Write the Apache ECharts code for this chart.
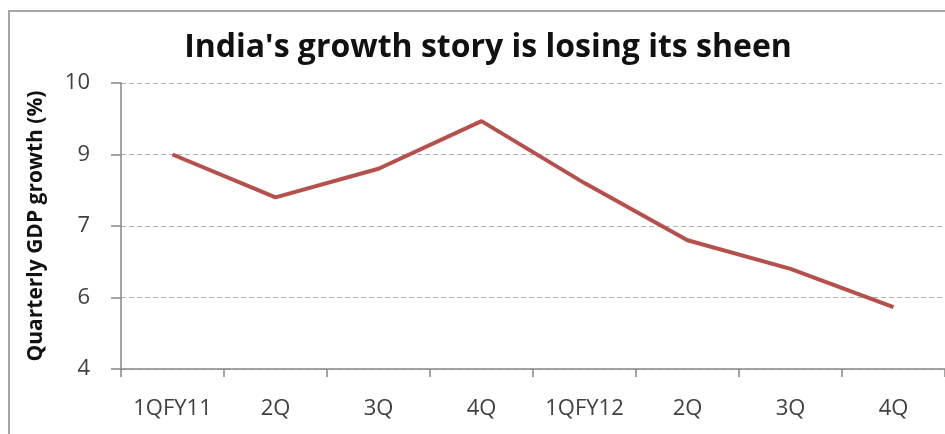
<!DOCTYPE html>
<html>
<head>
<meta charset="utf-8">
<script src="https://cdn.jsdelivr.net/npm/echarts@6/dist/echarts.min.js"></script>
<style>
  html, body { margin: 0; padding: 0; background: #fff; }
  #main { width: 945px; height: 434px; }
</style>
</head>
<body>
<div id="main"></div>
<script>
'use strict'

// quarters on the x axis
var quarters = ['1QFY11', '2Q', '3Q', '4Q', '1QFY12', '2Q', '3Q', '4Q'];
// quarterly GDP growth, %
var growth = [8.5, 7.6, 8.2, 9.2, 7.9, 6.7, 6.1, 5.3];
// y ticks (excel step 1.5, shown rounded)
var yTicks = [4, 5.5, 7, 8.5, 10];

var myChart = echarts.init(document.getElementById('main'));

var option = {
    animation: false,
    title: {
        text: "India's growth story is losing its sheen",
        left: 483,
        textAlign: 'center',
        top: 27,
        textStyle: {
            fontFamily: 'Open Sans',
            fontWeight: 'bold',
            fontSize: 32,
            color: '#111'
        }
    },
    graphic: [{
        type: 'rect',
        z: -10,
        shape: { x: 9, y: 11, width: 1000, height: 500 },
        style: { fill: 'none', stroke: '#a6a6a6', lineWidth: 2 }
    }],
    grid: {
        left: 121,
        right: -11,
        top: 83,
        bottom: 65
    },
    xAxis: {
        type: 'category',
        data: quarters,
        boundaryGap: true,
        axisLine: { lineStyle: { color: '#868686', width: 1.5 } },
        axisTick: { show: true, length: 8, lineStyle: { color: '#868686', width: 1.5 } },
        axisLabel: {
            margin: 29,
            fontFamily: 'Open Sans',
            fontSize: 22,
            color: '#404040'
        },
        splitLine: { show: false }
    },
    yAxis: {
        type: 'value',
        min: 4,
        max: 10,
        name: 'Quarterly GDP growth (%)',
        nameLocation: 'middle',
        nameGap: 74,
        nameRotate: 90,
        nameTextStyle: {
            fontFamily: 'Open Sans',
            fontWeight: 'bold',
            fontSize: 21,
            color: '#111'
        },
        axisLine: { show: true, lineStyle: { color: '#868686', width: 1.5 } },
        axisTick: {
            show: true,
            length: 10,
            customValues: yTicks,
            lineStyle: { color: '#868686', width: 1.5 }
        },
        axisLabel: {
            customValues: yTicks,
            margin: 31,
            fontFamily: 'Open Sans',
            fontSize: 22,
            color: '#404040',
            formatter: function (v) { return String(Math.round(v)); }
        },
        splitLine: {
            show: true,
            lineStyle: { color: '#b4b4b4', type: [5, 3], width: 1 }
        }
    },
    series: [{
        type: 'line',
        data: growth,
        showSymbol: false,
        lineStyle: { color: '#b5504c', width: 4 },
        itemStyle: { color: '#b5504c' }
    }]
};

myChart.setOption(option);
</script>
</body>
</html>
